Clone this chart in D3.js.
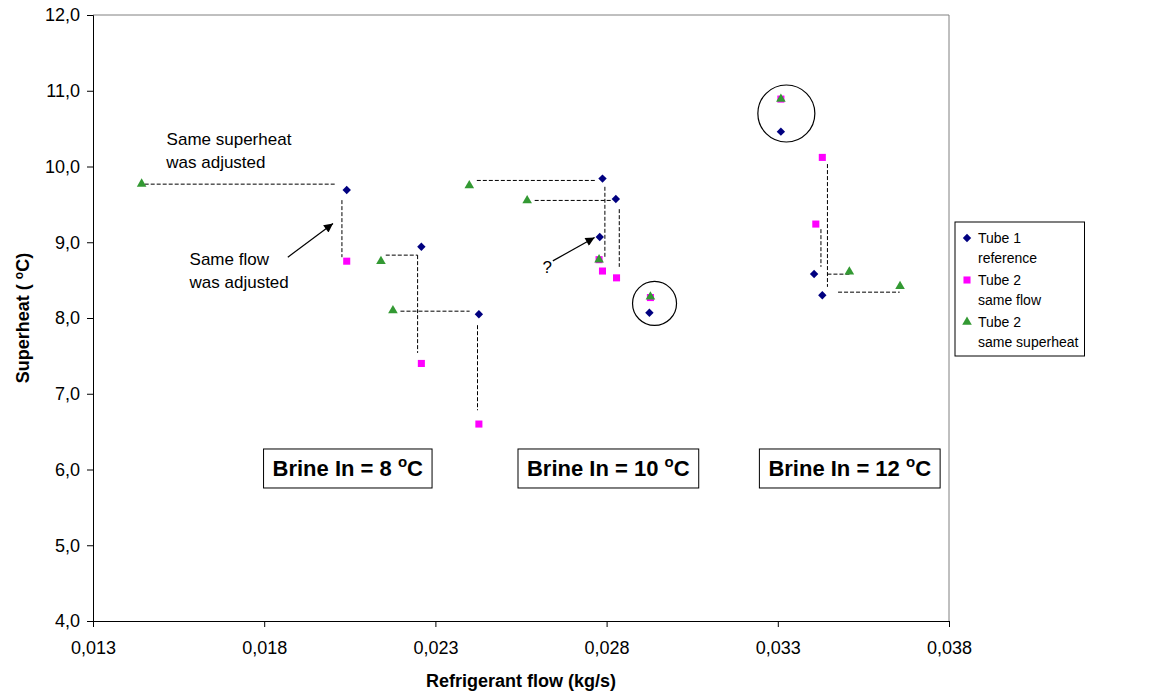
<!DOCTYPE html>
<html>
<head>
<meta charset="utf-8">
<script src="https://cdn.jsdelivr.net/npm/d3@7/dist/d3.min.js"></script>
<style>
  body { margin: 0; background: #fff; }
  svg { font-family: "Liberation Sans", Arial, sans-serif; }
</style>
</head>
<body>
<div id="chart"></div>
<script>
// series: [flow kg/s, superheat °C]
var tube1Ref = [
  [0.02041, 9.69], [0.02259, 8.94], [0.02427, 8.05],
  [0.02788, 9.84], [0.02827, 9.57], [0.02780, 9.07], [0.02925, 8.07],
  [0.03309, 10.46], [0.03406, 8.58], [0.03430, 8.30]
];
var tube2Flow = [
  [0.02041, 8.75], [0.02259, 7.40], [0.02427, 6.60],
  [0.02778, 8.77], [0.02788, 8.62], [0.02829, 8.53], [0.02928, 8.27],
  [0.03309, 10.89], [0.03430, 10.12], [0.03411, 9.24]
];
var tube2Superheat = [
  [0.01442, 9.77], [0.02141, 8.75], [0.02176, 8.10],
  [0.02399, 9.75], [0.02568, 9.55], [0.02778, 8.77], [0.02928, 8.28],
  [0.03309, 10.89], [0.03509, 8.61], [0.03657, 8.42]
];

var xTicks = [0.013, 0.018, 0.023, 0.028, 0.033, 0.038];
var yTicks = [4, 5, 6, 7, 8, 9, 10, 11, 12];

// dashed guide lines [x1, y1, x2, y2]
var guides = [
  [0.01451, 9.767, 0.02006, 9.767], [0.02027, 9.556, 0.02027, 8.803],
  [0.02155, 8.830, 0.02248, 8.830], [0.02248, 8.830, 0.02248, 7.539],
  [0.02198, 8.090, 0.02400, 8.090], [0.02423, 7.905, 0.02423, 6.782],
  [0.02421, 9.816, 0.02770, 9.816], [0.02795, 9.732, 0.02795, 8.786],
  [0.02590, 9.552, 0.02814, 9.552], [0.02837, 9.437, 0.02837, 8.675],
  [0.03426, 9.173, 0.03426, 8.675], [0.03445, 10.032, 0.03445, 8.411],
  [0.03445, 8.579, 0.03510, 8.579], [0.03476, 8.341, 0.03656, 8.341]
];
var arrows = [
  [0.01869, 8.803, 0.02001, 9.248],
  [0.02643, 8.754, 0.02765, 9.063]
];
var rings = [[0.02940, 8.192, 22], [0.03325, 10.70, 28.5]];
var notes = [
  [0.01515, 10.279, "Same superheat"], [0.01514, 9.975, "was adjusted"],
  [0.01582, 8.697, "Same flow"], [0.01582, 8.393, "was adjusted"],
  [0.02613, 8.592, "?"]
];
var brineLabels = [[0.02044, "8"], [0.02805, "10"], [0.03510, "12"]];
var brineY = 6.02;

var width = 1154, height = 697;
var margin = { top: 15, right: 205, bottom: 76, left: 93 };

var svg = d3.select("#chart").append("svg")
  .attr("width", width)
  .attr("height", height);

var x = d3.scaleLinear().domain([0.013, 0.038]).range([margin.left, width - margin.right]);
var y = d3.scaleLinear().domain([4, 12]).range([height - margin.bottom, margin.top]);

// plot frame (top/right grey)
svg.append("path")
  .attr("d", "M" + x(0.013) + "," + y(12) + "H" + x(0.038) + "V" + y(4))
  .attr("fill", "none")
  .attr("stroke", "#808080")
  .attr("stroke-width", 1);

svg.append("g")
  .attr("transform", "translate(0," + y(4) + ")")
  .call(d3.axisBottom(x).tickValues(xTicks).tickSize(6).tickPadding(14)
    .tickFormat(function (d) { return d3.format(".3f")(d).replace(".", ","); }));

svg.append("g")
  .attr("transform", "translate(" + x(0.013) + ",0)")
  .call(d3.axisLeft(y).tickValues(yTicks).tickSize(6).tickPadding(7)
    .tickFormat(function (d) { return d3.format(".1f")(d).replace(".", ","); }));

svg.selectAll(".domain").attr("stroke", "#000");
svg.selectAll(".tick line").attr("stroke", "#000");
svg.selectAll(".tick text").attr("fill", "#000").style("font-size", "18px").style("font-family", "inherit");

svg.append("text")
  .attr("x", (x(0.013) + x(0.038)) / 2)
  .attr("y", 687)
  .attr("text-anchor", "middle")
  .style("font-size", "18px")
  .style("font-weight", "bold")
  .text("Refrigerant flow (kg/s)");

var yt = svg.append("text")
  .attr("transform", "translate(29," + ((y(4) + y(12)) / 2) + ") rotate(-90)")
  .attr("text-anchor", "middle")
  .style("font-size", "18px")
  .style("font-weight", "bold");
yt.append("tspan").text("Superheat ( ");
yt.append("tspan").attr("dy", -6).style("font-size", "12px").text("o");
yt.append("tspan").attr("dy", 6).text("C)");

// dashed guides
svg.append("g").selectAll("line")
  .data(guides)
  .enter()
  .append("line")
  .attr("x1", function (d) { return x(d[0]) })
  .attr("y1", function (d) { return y(d[1]) })
  .attr("x2", function (d) { return x(d[2]) })
  .attr("y2", function (d) { return y(d[3]) })
  .attr("stroke", "#000")
  .attr("stroke-width", 1)
  .attr("stroke-dasharray", "4,2");

// arrows
svg.append("defs").append("marker")
  .attr("id", "head")
  .attr("viewBox", "0 0 10 10")
  .attr("refX", 10).attr("refY", 5)
  .attr("markerWidth", 12).attr("markerHeight", 9)
  .attr("markerUnits", "userSpaceOnUse")
  .attr("orient", "auto")
  .append("path")
  .attr("d", "M0,0L10,5L0,10Z")
  .attr("fill", "#000");

svg.append("g").selectAll("line")
  .data(arrows)
  .enter()
  .append("line")
  .attr("x1", function (d) { return x(d[0]) })
  .attr("y1", function (d) { return y(d[1]) })
  .attr("x2", function (d) { return x(d[2]) })
  .attr("y2", function (d) { return y(d[3]) })
  .attr("stroke", "#000")
  .attr("stroke-width", 1.2)
  .attr("marker-end", "url(#head)");

svg.append("g").selectAll("circle")
  .data(rings)
  .enter()
  .append("circle")
  .attr("cx", function (d) { return x(d[0]) })
  .attr("cy", function (d) { return y(d[1]) })
  .attr("r", function (d) { return d[2] })
  .attr("fill", "none")
  .attr("stroke", "#000")
  .attr("stroke-width", 1.2);

svg.append("g").selectAll("text")
  .data(notes)
  .enter()
  .append("text")
  .attr("x", function (d) { return x(d[0]) })
  .attr("y", function (d) { return y(d[1]) })
  .style("font-size", "17px")
  .text(function (d) { return d[2] });

// brine boxes
brineLabels.forEach(function (b) {
  var g = svg.append("g");
  var t = g.append("text")
    .attr("x", x(b[0]))
    .attr("y", y(brineY) + 8)
    .attr("text-anchor", "middle")
    .style("font-size", "22px")
    .style("font-weight", "bold");
  t.append("tspan").text("Brine In = " + b[1] + " ");
  t.append("tspan").attr("dy", -9).style("font-size", "15px").text("o");
  t.append("tspan").attr("dy", 9).text("C");
  var bb = t.node().getBBox();
  g.insert("rect", "text")
    .attr("x", bb.x - 9)
    .attr("y", y(brineY) - 19)
    .attr("width", bb.width + 18)
    .attr("height", 39)
    .attr("fill", "#fff")
    .attr("stroke", "#000")
    .attr("stroke-width", 1);
});

// markers
var diamond = d3.symbol().type(d3.symbolDiamond2).size(45);
var square = d3.symbol().type(d3.symbolSquare).size(50);
var triangle = d3.symbol().type(d3.symbolTriangle).size(40);

svg.append("g").selectAll("path")
  .data(tube1Ref)
  .enter()
  .append("path")
  .attr("d", diamond)
  .attr("transform", function (d) { return "translate(" + x(d[0]) + "," + y(d[1]) + ")" })
  .attr("fill", "#000080");

svg.append("g").selectAll("path")
  .data(tube2Flow)
  .enter()
  .append("path")
  .attr("d", square)
  .attr("transform", function (d) { return "translate(" + x(d[0]) + "," + y(d[1]) + ")" })
  .attr("fill", "#ff00ff");

svg.append("g").selectAll("path")
  .data(tube2Superheat)
  .enter()
  .append("path")
  .attr("d", triangle)
  .attr("transform", function (d) { return "translate(" + x(d[0]) + "," + y(d[1]) + ")" })
  .attr("fill", "#339933");

// legend
var legendItems = [
  ["Tube 1", "reference", diamond, "#000080"],
  ["Tube 2", "same flow", square, "#ff00ff"],
  ["Tube 2", "same superheat", triangle, "#339933"]
];
var lg = svg.append("g").attr("transform", "translate(955,222)");
var lgBox = lg.append("rect")
  .attr("fill", "#fff")
  .attr("stroke", "#000")
  .attr("stroke-width", 1);
var maxW = 0;
legendItems.forEach(function (it, i) {
  var top = 8 + i * 42;
  lg.append("path")
    .attr("d", it[2])
    .attr("transform", "translate(12," + (top + 8) + ")")
    .attr("fill", it[3]);
  var t = lg.append("text")
    .attr("x", 23)
    .attr("y", top + 13)
    .style("font-size", "14px");
  t.append("tspan").attr("x", 23).text(it[0]);
  t.append("tspan").attr("x", 23).attr("dy", 20).text(it[1]);
  maxW = Math.max(maxW, t.node().getBBox().width);
});
lgBox.attr("width", 23 + maxW + 6).attr("height", 8 + 3 * 42);
</script>
</body>
</html>
